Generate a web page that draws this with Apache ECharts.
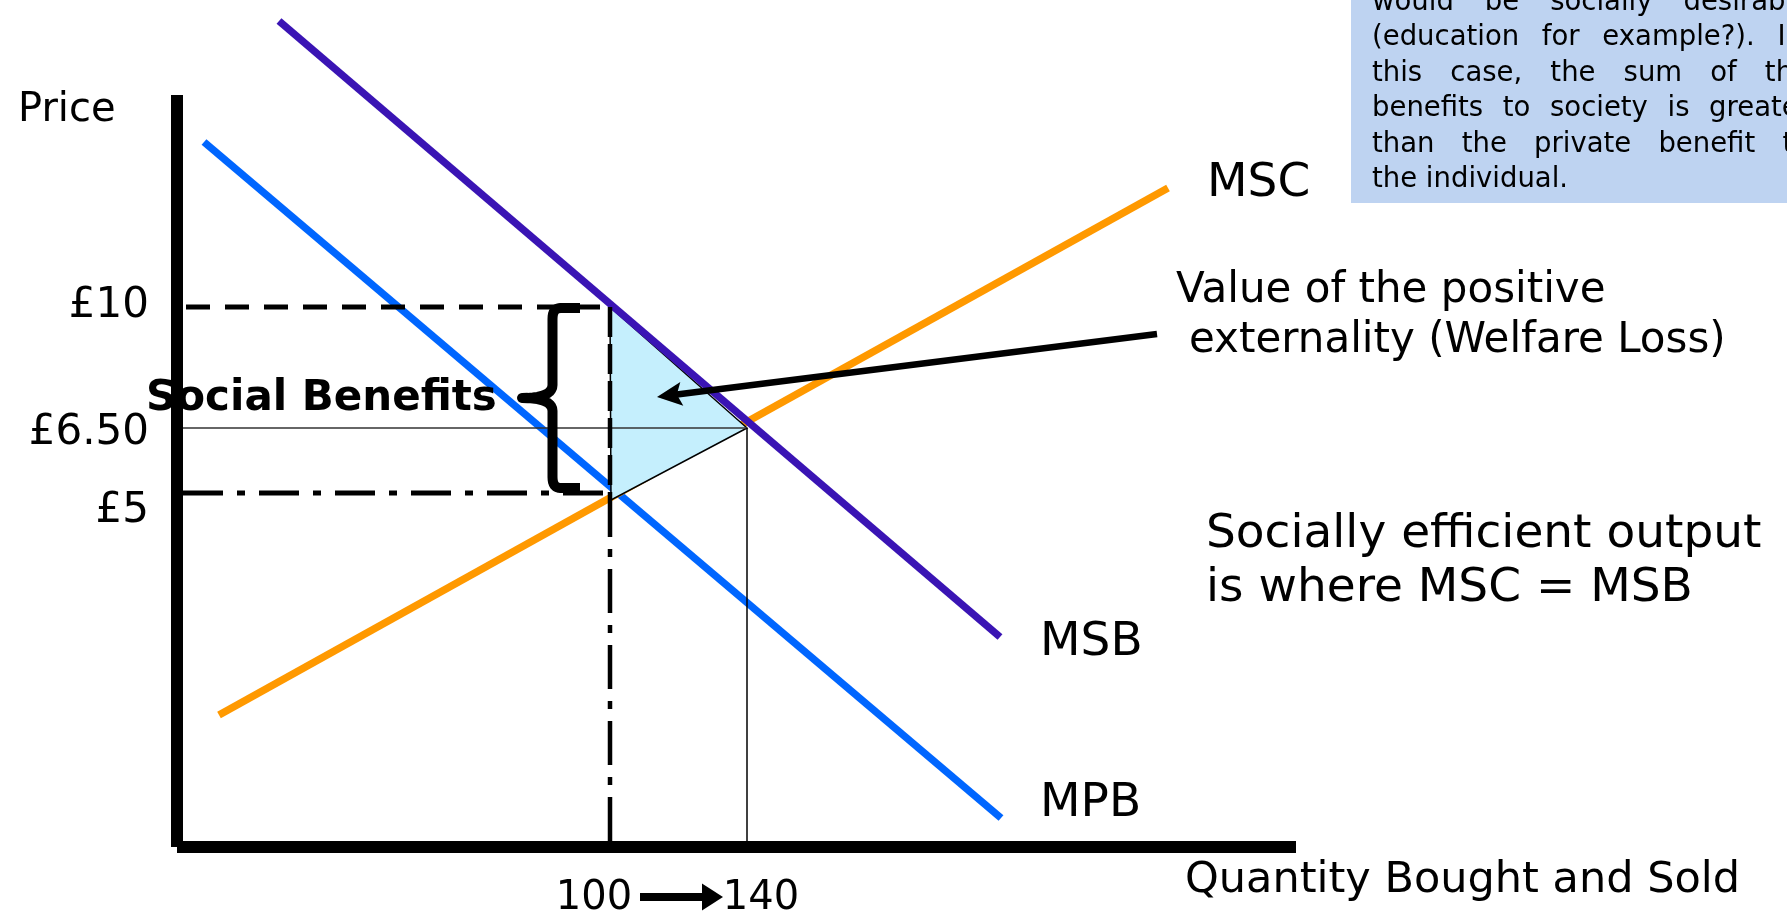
<!DOCTYPE html>
<html><head><meta charset="utf-8">
<script src="https://cdn.jsdelivr.net/npm/echarts@6/dist/echarts.min.js"></script>
<style>html,body{margin:0;padding:0;background:#fff}#c{width:1787px;height:923px}</style>
</head><body><div id="c"></div>
<script>
// ---- diagram data (diagram units: x = quantity axis, y = price axis) ----
const msbLine = [[102, 826], [823, 210]];
const mpbLine = [[27, 705], [824, 29]];
const mscLine = [[42, 132], [991, 659]];

const qOld = 433, qNew = 570;          // 100 and 140 on the quantity axis
const pHigh = 540, pMid = 419, pLow = 354;   // £10, £6.50, £5 levels

const priceTickLabels = ['£5', '£6.50', '£10'];
const priceTickValues = [336, 414, 541];
const qtyTickLabels = ['100', '140'];
const qtyTickValues = [417, 584];

const welfareTriangle = [[qOld, pHigh], [qNew, pMid], [434, 347]];
const braceX = 375.5, braceArmEnd = 403, braceTip = 345, braceTop = 539, braceBottom = 359, braceMid = 449;
const arrowsData = [[980, 513, 480, 450], [463, -50, 546, -50]];

const boxLines = [
  'would be socially desirable',
  '(education for example?). In',
  'this case, the sum of the',
  'benefits to society is greater',
  'than the private benefit to',
  'the individual.'
];

// ---- styles ----
const FF = '"DejaVu Sans", Verdana, sans-serif';
const arrowStyles = [{w: 6.5, len: 25, half: 12, notch: 5}, {w: 8, len: 21, half: 13.5, notch: 0}];
const boxLineWidths = [438, 431, 438, 438, 438];

function line(name, data, color, width, z, type) {
  return {type: 'line', name, data, symbol: 'none', clip: false, silent: true, z,
    animation: false, lineStyle: {color, width, type: type || 'solid', cap: 'butt'}};
}

function quad(p0, c, p1, n) {
  const out = [];
  for (let i = 1; i <= n; i++) {
    const t = i / n, u = 1 - t;
    out.push([u*u*p0[0] + 2*u*t*c[0] + t*t*p1[0], u*u*p0[1] + 2*u*t*c[1] + t*t*p1[1]]);
  }
  return out;
}
function bracePoints() {
  const r = 11;
  let pts = [[braceArmEnd, braceTop], [braceX + 8, braceTop]];
  pts = pts.concat(quad([braceX + 8, braceTop], [braceX, braceTop], [braceX, braceTop - r], 8));
  pts.push([braceX, braceMid + 13]);
  pts = pts.concat(quad([braceX, braceMid + 13], [braceX, braceMid], [braceTip, braceMid], 10));
  pts = pts.concat(quad([braceTip, braceMid], [braceX, braceMid], [braceX, braceMid - 13], 10));
  pts.push([braceX, braceBottom + r]);
  pts = pts.concat(quad([braceX, braceBottom + r], [braceX, braceBottom], [braceX + 8, braceBottom], 8));
  pts.push([braceArmEnd, braceBottom]);
  return pts;
}

function txt(text, x, baseline, size, weight) {
  return {type: 'text', x, y: baseline - 0.346 * size + 3.5, z: 100, silent: true,
    style: {text, font: (weight || 'normal') + ' ' + size + 'px ' + FF, fill: '#000',
      align: 'left', verticalAlign: 'middle'}};
}

// justified text box
const boxFont = 27.5, boxLeft = 1372, boxBase0 = 8.5, boxStep = 35.5;
const mctx = document.createElement('canvas').getContext('2d');
mctx.font = boxFont + 'px "DejaVu Sans"';
const boxTexts = [];
boxLines.forEach((ln, i) => {
  const words = ln.split(' ');
  const widths = words.map(w => mctx.measureText(w).width);
  const total = widths.reduce((a, b) => a + b, 0);
  const last = i === boxLines.length - 1;
  const gap = last ? mctx.measureText(' ').width : (boxLineWidths[i] - total) / (words.length - 1);
  let x = boxLeft;
  words.forEach((w, k) => {
    boxTexts.push(txt(w, x, boxBase0 + i * boxStep, boxFont));
    x += widths[k] + gap;
  });
});

const chart = echarts.init(document.getElementById('c'), null, {renderer: 'canvas'});
const findLabel = (vals, labels) => v => {
  const k = vals.findIndex(t => Math.abs(t - v) < 0.5);
  return k >= 0 ? labels[k] : '';
};

chart.setOption({
  animation: false,
  backgroundColor: '#fff',
  grid: {left: 177, top: 95, width: 1119, height: 752},
  xAxis: {type: 'value', min: 0, max: 1119,
    axisLine: {show: true, onZero: false, lineStyle: {color: '#000', width: 12, cap: 'butt'}},
    axisTick: {show: false}, splitLine: {show: false},
    axisLabel: {customValues: qtyTickValues, formatter: findLabel(qtyTickValues, qtyTickLabels),
      fontSize: 40, fontFamily: FF, color: '#000', margin: 32}},
  yAxis: {type: 'value', min: 0, max: 752,
    axisLine: {show: true, onZero: false, lineStyle: {color: '#000', width: 12, cap: 'butt'}},
    axisTick: {show: false}, splitLine: {show: false},
    axisLabel: {customValues: priceTickValues, formatter: findLabel(priceTickValues, priceTickLabels),
      fontSize: 42, fontFamily: FF, color: '#000', margin: 28}},
  series: [
    line('MPB', mpbLine, '#0066FF', 7.5, 2),
    line('MSC', mscLine, '#FF9900', 7.5, 2),
    {type: 'custom', name: 'welfare', z: 3, clip: false, silent: true, data: [[0, 0]],
      renderItem: (p, api) => ({type: 'polygon',
        shape: {points: welfareTriangle.map(pt => api.coord(pt))},
        style: {fill: '#C5EFFD', stroke: '#000', lineWidth: 1.5}})},
    line('MSB', msbLine, '#3A14B4', 7.5, 4),
    line('p650', [[6, pMid], [qNew, pMid]], '#333', 1.5, 5),
    line('q140', [[qNew, pMid], [qNew, 0]], '#000', 1.5, 5),
    line('p10', [[9, pHigh], [qOld, pHigh]], '#000', 5, 5, [24, 15]),
    line('p5', [[6, pLow], [qOld, pLow]], '#000', 5, 5, [40, 14, 8, 14]),
    line('q100a', [[qOld, pHigh], [qOld, pLow]], '#000', 4.5, 5, [30, 7]),
    line('q100b', [[qOld, pLow], [qOld, 0]], '#000', 4.5, 5, [44, 12, 8, 12]),
    {type: 'custom', name: 'brace', z: 6, clip: false, silent: true, data: [[0, 0]],
      renderItem: (p, api) => ({type: 'polyline',
        shape: {points: bracePoints().map(pt => api.coord(pt))},
        style: {fill: null, stroke: '#000', lineWidth: 10, lineJoin: 'round', lineCap: 'butt'}})},
    {type: 'custom', name: 'arrows', z: 6, clip: false, silent: true, data: arrowsData,
      renderItem: (params, api) => {
        const i = params.dataIndex, a = arrowsData[i], s = arrowStyles[i];
        const t = api.coord([a[0], a[1]]), h = api.coord([a[2], a[3]]);
        const dx = h[0] - t[0], dy = h[1] - t[1], L = Math.hypot(dx, dy);
        const ux = dx / L, uy = dy / L;
        const bx = h[0] - ux * s.len, by = h[1] - uy * s.len;
        return {type: 'group', children: [
          {type: 'line', shape: {x1: t[0], y1: t[1], x2: bx + ux * (s.notch + 2), y2: by + uy * (s.notch + 2)},
            style: {stroke: '#000', lineWidth: s.w}},
          {type: 'polygon', shape: {points: [h, [bx - uy * s.half, by + ux * s.half],
            [bx + ux * s.notch, by + uy * s.notch], [bx + uy * s.half, by - ux * s.half]]},
            style: {fill: '#000'}}
        ]};
      }}
  ],
  graphic: [
    {type: 'rect', z: 90, silent: true, shape: {x: 1351, y: -5, width: 500, height: 208}, style: {fill: '#BED3F1'}},
    ...boxTexts,
    txt('Price', 18, 121, 40),
    txt('MSC', 1207, 197, 47),
    txt('MSB', 1040, 656, 47),
    txt('MPB', 1040, 817, 47),
    txt('Value of the positive', 1176, 302, 42),
    txt('externality (Welfare Loss)', 1189, 352, 42),
    txt('Socially efficient output', 1206, 548, 47),
    txt('is where MSC = MSB', 1206, 602, 47),
    txt('Quantity Bought and Sold', 1185, 892, 43),
    txt('Social Benefits', 146, 410, 42, 'bold')
  ]
});
</script></body></html>
